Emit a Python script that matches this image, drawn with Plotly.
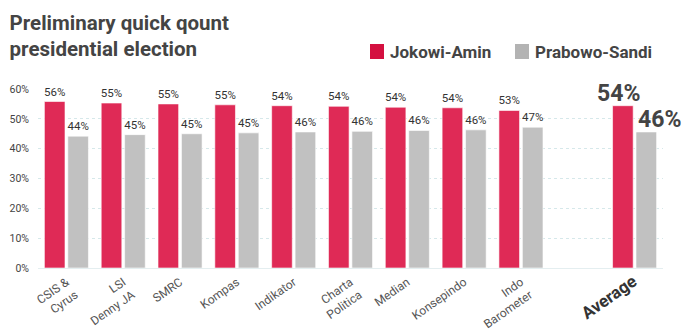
import plotly.graph_objects as go

categories = ["CSIS &<br>Cyrus", "LSI<br>Denny JA", "SMRC", "Kompas", "Indikator",
              "Charta<br>Politica", "Median", "Konsepindo", "Indo<br>Barometer"]
blank_category = " "
average_category = "<span style='font-size:17px;color:#333'><b>Average</b></span>"
jokowi = [55.8, 55.3, 55.0, 54.7, 54.4, 54.2, 53.9, 53.7, 52.8]
prabowo = [44.2, 44.7, 45.0, 45.3, 45.6, 45.8, 46.1, 46.3, 47.2]
jokowi_avg = 54.4
prabowo_avg = 45.6
y_ticks = [0, 10, 20, 30, 40, 50, 60]
series_names = ["Jokowi-Amin", "Prabowo-Sandi"]

RED = "#DF2A56"
GRAY = "#C1C1C1"
RED_LEG = "#D41040"
GRAY_LEG = "#B3B3B3"

x_all = categories + [average_category]
cat_order = categories + [blank_category, average_category]

fig = go.Figure()
lab_font = dict(family="Roboto, Arial", size=11.5, color="#333")

fig.add_trace(go.Bar(
    x=x_all, y=jokowi + [jokowi_avg], name=series_names[0],
    marker=dict(color=RED, line=dict(color="rgba(255,255,255,0.6)", width=1)),
    text=[f"{round(v)}%" for v in jokowi] + [""], textposition="outside",
    textfont=lab_font, cliponaxis=False, constraintext="none", showlegend=False,
))
fig.add_trace(go.Bar(
    x=x_all, y=prabowo + [prabowo_avg], name=series_names[1],
    marker=dict(color=GRAY, line=dict(color="rgba(255,255,255,0.6)", width=1)),
    text=[f"{round(v)}%" for v in prabowo] + [""], textposition="outside",
    textfont=lab_font, cliponaxis=False, constraintext="none", showlegend=False,
))

big = dict(family="Roboto, Arial", size=23, color="#444")
fig.add_annotation(x=average_category, y=jokowi_avg, text=f"<b>{round(jokowi_avg)}%</b>",
                   xref="x", yref="y", showarrow=False, yanchor="bottom", xshift=-16,
                   font=big, yshift=-3)
fig.add_annotation(x=average_category, y=prabowo_avg, text=f"<b>{round(prabowo_avg)}%</b>",
                   xref="x", yref="y", showarrow=False, yanchor="bottom", xshift=25,
                   font=big, yshift=-3)

# manual legend (swatch + real text)
leg_items = [(series_names[0], RED_LEG, 370), (series_names[1], GRAY_LEG, 515)]
for name, col, px in leg_items:
    fig.add_shape(type="rect", xref="paper", yref="paper",
                  x0=(px - 38) / 625, x1=(px + 14 - 38) / 625,
                  y0=(268 - 59) / 179, y1=(268 - 44) / 179,
                  fillcolor=col, line=dict(width=0))
    fig.add_annotation(xref="paper", yref="paper", x=(px + 18 - 38) / 625,
                       y=(268 - 52) / 179, xanchor="left", yanchor="middle",
                       text=f"<b>{name}</b>", showarrow=False,
                       font=dict(family="Roboto, Arial", size=17, color="#444"))

fig.update_layout(
    width=684, height=330,
    margin=dict(l=38, r=21, t=89, b=62),
    paper_bgcolor="white", plot_bgcolor="white",
    barmode="group", bargap=0.175, bargroupgap=0.12,
    showlegend=False,
    title=dict(text="<b>Preliminary quick qount<br>presidential election</b>",
               x=0.014, xanchor="left", y=0.91, yanchor="top",
               font=dict(family="Roboto, Arial", size=20.5, color="#444")),
    font=dict(family="Roboto, Arial", color="#555"),
)
fig.update_xaxes(type="category", categoryorder="array", categoryarray=cat_order,
                 range=[-0.5, len(cat_order) - 0.5], tickangle=-35, automargin=False,
                 tickfont=dict(family="Roboto, Arial", size=12, color="#555"),
                 showgrid=False, showline=False, ticks="", ticklabelstandoff=4)
fig.update_yaxes(range=[0, 60], tickvals=y_ticks, ticktext=[f"{v}%" for v in y_ticks],
                 showgrid=True, gridcolor="#d6e8ea", griddash="dot", gridwidth=1,
                 zeroline=True, zerolinecolor="#e4eef0", zerolinewidth=1, automargin=False,
                 tickfont=dict(family="Roboto, Arial", size=10.5, color="#444"),
                 ticklabelstandoff=8)

fig.write_html("out.html")
